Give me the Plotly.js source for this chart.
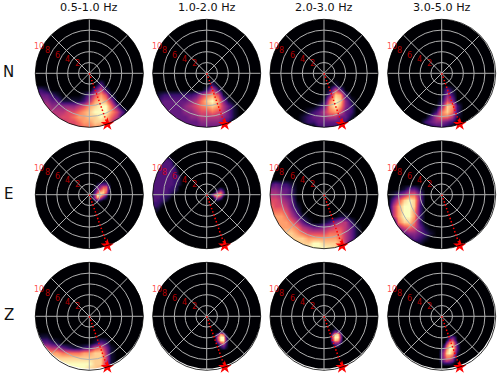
<!DOCTYPE html>
<html><head><meta charset="utf-8">
<script src="https://cdn.plot.ly/plotly-3.0.0.min.js"></script>
<style>html,body{margin:0;padding:0;background:#fff}#c{width:500px;height:374px}</style>
</head><body><div id="c"></div>
<script>
const bands = ["0.5-1.0 Hz","1.0-2.0 Hz","2.0-3.0 Hz","3.0-5.0 Hz"];
const comps = ["N","E","Z"];
const rTicks = [2,4,6,8,10];
const starR = [0,10];
const starTheta = [160.5,160.5];
const N_05 = [
 [-2,2,3],
 [-3,-10,2,2,1],[-3,1,3,6,2],
 [-4,-10,2,3,3,2,1],[-4,-1,1,3,6,8,6,1],
 [-5,-10,3,4,4,3,3,1,1,1,1,2,5,8,9,8,5],
 [-6,-10,4,5,5,4,4,4,4,4,5,6,8,9,10,10,7,3],
 [-7,-10,5,5,5,5,5,5,6,6,7,8,9,10,10,10,8,6,3],
 [-8,-10,5,5,5,5,5,6,6,7,8,8,9,9,10,9,7,5,2],
 [-9,-6,5,5,6,6,7,8,8,9,9,8,6,3],
 [-10,-4,6,6,6,7,7,8,7,4]];
const N_10 = [
 [-2,1,2],
 [-3,0,2,6,2],
 [-4,-9,1,2,2,2,2,2,2,3,5,7,8,6,1],
 [-5,-10,2,2,3,3,3,3,3,4,5,7,9,10,8,4,1],
 [-6,-10,3,3,3,3,3,3,4,5,6,7,8,9,8,5,3,1],
 [-7,-10,3,3,3,3,3,3,4,4,5,6,6,7,6,5,3,1],
 [-8,-10,3,3,3,3,3,3,3,4,4,5,5,5,5,4,3,1],
 [-9,-6,3,3,3,3,3,4,4,4,4,3,2],
 [-10,-4,3,3,3,3,3,3,3,2]];
const N_20 = [
 [-2,2,1],
 [-3,1,1,6,3],
 [-4,1,3,9,8,2],
 [-5,0,1,7,10,9,4,1],
 [-6,-1,1,3,8,10,8,4,2],
 [-7,-3,1,2,3,5,7,8,6,3,2],
 [-8,-4,1,2,3,3,4,5,5,3,3,1],
 [-9,-4,1,2,2,3,3,3,3,3,2],
 [-10,-1,2,2,2,2,1]];
const N_30 = [
 [-3,1,3,1],
 [-4,1,4,2],
 [-5,0,1,6,4],
 [-6,0,3,9,8,2],
 [-7,-1,2,7,9,7,2],
 [-8,-2,2,5,7,7,5,1],
 [-9,-3,2,3,4,4,3,2],
 [-10,-2,1,2,2,1]];
const E_05 = [
 [2.5,2.5,1,1],
 [2,1.5,1,3,3,3,1],
 [1.5,1,1,3,4,6,6,3],
 [1,1,2,4,6,8,7,3],
 [0.5,1,3,6,9,9,6,2],
 [0,0.5,1,5,10,10,7,3],
 [-0.5,0.5,1,5,8,6,3,1],
 [-1,1,1,2,1]];
const E_10 = [
 [7,-7.5,1,1],
 [6.5,-8,2,2.5,2,1],
 [6,-8.5,2.5,2.5,2.5,2.5,2],
 [5.5,-9,2.5,2.5,2.5,2.5,2.5,2,1],
 [5,-9.5,2.5,2.5,2.5,2.5,2.5,2.5,2.5,2],
 [4.5,-10,2.5,2.5,2.5,2.5,2.5,2.5,2.5,2.5,2,1],
 [4,-10,2.5,2.5,2.5,2.5,2.5,2.5,2.5,2.5,2,1],
 [3.5,-10,2.5,2.5,2.5,2.5,2.5,2.5,2.5,2.5,2,2,1],
 [3,-10,2.5,2.5,2.5,2.5,2.5,2.5,2.5,2.5,2,2,1],
 [2.5,-10,2.5,2.5,2.5,2.5,2.5,2.5,2.5,2.5,2,2,1],
 [2,-10,2.5,2.5,2.5,2.5,2.5,2.5,2.5,2.5,2,1.5,1],
 [1.5,-10,2.5,2.5,2.5,2.5,2.5,2.5,2.5,2,2,1],
 [1,-10,2.5,2.5,2.5,2.5,2.5,2.5,2,2,1.5,1],[1,2,1,3,1],
 [0.5,-10,2.5,2.5,2.5,2.5,2.5,2.5,2,1.5,1],[0.5,1.5,1,5,7,3],
 [0,-10,2.5,2.5,2.5,2.5,2,2,1.5,1],[0,1,4,8,10,8,2],
 [-0.5,-10,2.5,2.5,2.5,2,2,1.5,1],[-0.5,1.5,3,5,3],
 [-1,-10,2.5,2.5,2,2,1.5,1],[-1,2,1],
 [-1.5,-10,2,2,2,1.5,1],
 [-2,-10,2,2,1.5,1],
 [-2.5,-10,1.5,1,1],
 [-3,-10,1,1]];
const E_20 = [
 [2,-10,2,3,2,2,1],
 [1,-10,4,4,3,3,2],
 [0,-10,5,5,4,3,2],
 [-1,-10,6,6,5,4,3],
 [-2,-10,7,6,6,5,3,1],
 [-3,-10,7,7,7,6,4,2],
 [-4,-10,8,8,8,7,5,3,1],[-4,3,1,1],
 [-5,-10,8,8,8,8,7,5,3,1,0,0,1,2,4,5,5,2],
 [-6,-10,8,8,8,8,8,7,5,4,3,3,4,5,6,6,5,3,1],
 [-7,-10,9,9,9,9,9,8,7,6,6,6,6,7,7,7,5,3,1],
 [-8,-10,9,9,9,9,9,9,9,8,8,8,8,8,8,7,5,3,1],
 [-9,-6,9,9,9,9,10,10,9,9,9,8,5,2],
 [-10,-4,10,10,10,10,10,10,9,7]];
const E_30 = [
 [1,-7,1,3,3,1],
 [0,-9,1,3,5,7,7,3],
 [-1,-9,3,6,9,10,9,3],
 [-2,-9,5,8,10,10,9,2],
 [-3,-9,5,8,10,10,8,2],
 [-4,-9,5,8,10,10,8,2],
 [-5,-8,7,9,9,7,2],
 [-6,-8,4,6,7,6,3,1],
 [-7,-7,3,4,4,3,2,1],
 [-8,-6,2,3,2,1],
 [-9,-5,1,1]];
const Z_05 = [
 [-4,-9,1,1],
 [-5,-10,3,3,3,2,1],[-5,1,1,3,2],
 [-6,-10,5,5,6,5,5,3,2,1,1,2,3,6,7,4,1],
 [-7,-10,8,8,8,8,8,7,7,7,7,8,8,9,9,5,1],
 [-8,-8,9,9,9,9,9,9,9,9,9,9,9,6,1],
 [-9,-6,10,10,10,10,10,10,10,9,9,5,1],
 [-10,-4,10,10,10,10,9,9,8,4]];
const Z_10 = [
 [-3,2.5,2,1],
 [-3.5,2,3,8,6,1],
 [-4,2,6,10,10,3],
 [-4.5,2,5,10,10,4],
 [-5,2,3,7,8,3],
 [-5.5,2.5,3,4,2],
 [-6,2.5,1,2,1]];
const Z_20 = [
 [-2.5,2,1],
 [-3,1.5,1,4,4,1],
 [-3.5,1.5,3,9,9,3],
 [-4,1.5,5,10,10,4],
 [-4.5,1.5,4,9,8,3],
 [-5,1.5,2,5,5,2],
 [-5.5,2,2,2]];
const Z_30 = [
 [-4,1.5,2,3,2],
 [-4.5,1,1,4,6,3],
 [-5,1,3,7,8,5,1],
 [-5.5,0.5,2,6,9,9,6,2],
 [-6,0.5,4,7,10,10,7,2],
 [-6.5,0,2,5,8,10,9,6,2],
 [-7,0,3,6,9,10,8,5,1],
 [-7.5,0,3,6,8,8,7,4],
 [-8,0,3,5,7,7,5,2],
 [-8.5,0,2,4,5,4,3,1],
 [-9,0,1,2,2,2,1]];
const panels = [N_05,N_10,N_20,N_30,E_05,E_10,E_20,E_30,Z_05,Z_10,Z_20,Z_30];
const panelStep = [1,1,1,1,0.5,0.5,1,1,1,0.5,0.5,0.5];
const labelDx = [-12,-22,-32,-42.3,-50];
const labelDy = [-10,-14,-18.3,-22.7,-26.7];

const colX = [89.3,206.7,324,441.7];
const rowY = [73.3,194.7,316.3];
const R = 54, W = 500, H = 374, PAD = 1.1;
const magma = [[0,'#000004'],[.1,'#140e36'],[.2,'#3b0f70'],[.3,'#641a80'],[.4,'#8c2981'],[.5,'#b73779'],[.6,'#de4968'],[.7,'#f7705c'],[.8,'#fe9f6d'],[.9,'#fecf92'],[1,'#fcfdbf']];

function grid(rows,step){
  const n = Math.round(20/step)+1, axis = [];
  for(let i=0;i<n;i++) axis.push(-10+i*step);
  const z = axis.map(()=>axis.map(()=>0));
  rows.forEach(r=>{
    const j = Math.round((r[0]+10)/step), i0 = Math.round((r[1]+10)/step);
    r.slice(2).forEach((v,k)=>{ z[j][i0+k] = v; });
  });
  return {axis,z};
}
// Keyhole outline: the square around the disc is painted white, hiding the heatmap's corners
const maskX = [-12,12,12,-12,-12,-10], maskY = [-12,-12,12,12,0,0];
for(let a=0;a<=360;a+=3){ maskX.push(-10*Math.cos(a*Math.PI/180)); maskY.push(10*Math.sin(a*Math.PI/180)); }
maskX.push(-12); maskY.push(0);

const data = [], layout = {width:W,height:H,margin:{l:0,r:0,t:0,b:0},paper_bgcolor:'#fff',plot_bgcolor:'#fff',showlegend:false,annotations:[],
  font:{family:'DejaVu Sans, sans-serif'}};
panels.forEach((rows,n)=>{
  const c = n%4, r = Math.floor(n/4), id = n+1, s = n===0?'':String(id);
  const dx = [(colX[c]-R)/W,(colX[c]+R)/W], dy = [1-(rowY[r]+R)/H,1-(rowY[r]-R)/H];
  const ex = [(colX[c]-R*PAD)/W,(colX[c]+R*PAD)/W], ey = [1-(rowY[r]+R*PAD)/H,1-(rowY[r]-R*PAD)/H];
  layout['xaxis'+s] = {domain:ex,range:[-10*PAD,10*PAD],visible:false,anchor:'y'+s,fixedrange:true};
  layout['yaxis'+s] = {domain:ey,range:[-10*PAD,10*PAD],visible:false,anchor:'x'+s,fixedrange:true};
  const g = grid(rows,panelStep[n]);
  data.push({type:'heatmap',x:g.axis,y:g.axis,z:g.z,zmin:0,zmax:10,colorscale:magma,showscale:false,zsmooth:'best',xaxis:'x'+s,yaxis:'y'+s,hoverinfo:'skip'});
  data.push({type:'scatter',mode:'lines',x:maskX,y:maskY,fill:'toself',fillcolor:'#fff',line:{width:0},xaxis:'x'+s,yaxis:'y'+s,hoverinfo:'skip'});
  const pid = 'polar'+s;
  layout[pid] = {domain:{x:dx,y:dy},bgcolor:'rgba(0,0,0,0)',
    radialaxis:{range:[0,10],tickvals:rTicks,showticklabels:false,angle:157.5,ticks:'',showline:false,gridcolor:'#b0b0b0',gridwidth:1},
    angularaxis:{direction:'clockwise',rotation:90,tickvals:[0,45,90,135,180,225,270,315],showticklabels:false,ticks:'',gridcolor:'#b0b0b0',gridwidth:1,showline:true,linecolor:'#000',linewidth:0.8}};
  data.push({type:'scatterpolar',subplot:pid,mode:'lines',r:starR,theta:starTheta,cliponaxis:false,line:{color:'#f00',width:1.5,dash:'1.5px,2px'},hoverinfo:'skip'});
  data.push({type:'scatterpolar',subplot:pid,mode:'markers',r:[starR[1]],theta:[starTheta[1]],cliponaxis:false,marker:{symbol:'star',color:'#f00',size:10,line:{width:0}},hoverinfo:'skip'});
  rTicks.forEach((t,k)=>layout.annotations.push({text:String(t),xref:'paper',yref:'paper',x:(colX[c]+labelDx[k])/W,y:1-(rowY[r]+labelDy[k])/H,xanchor:'center',yanchor:'middle',showarrow:false,font:{size:8,color:'rgba(255,0,0,0.7)'}}));
});
bands.forEach((t,c)=>layout.annotations.push({text:t,xref:'paper',yref:'paper',x:colX[c]/W,y:1-8/H,xanchor:'center',yanchor:'middle',showarrow:false,font:{size:11.2,color:'#111'}}));
comps.forEach((t,r)=>layout.annotations.push({text:t,xref:'paper',yref:'paper',x:8.7/W,y:1-(rowY[r]-1)/H,xanchor:'center',yanchor:'middle',showarrow:false,font:{size:15,color:'#111'}}));
Plotly.newPlot('c',data,layout,{displayModeBar:false,staticPlot:true});
</script></body></html>
